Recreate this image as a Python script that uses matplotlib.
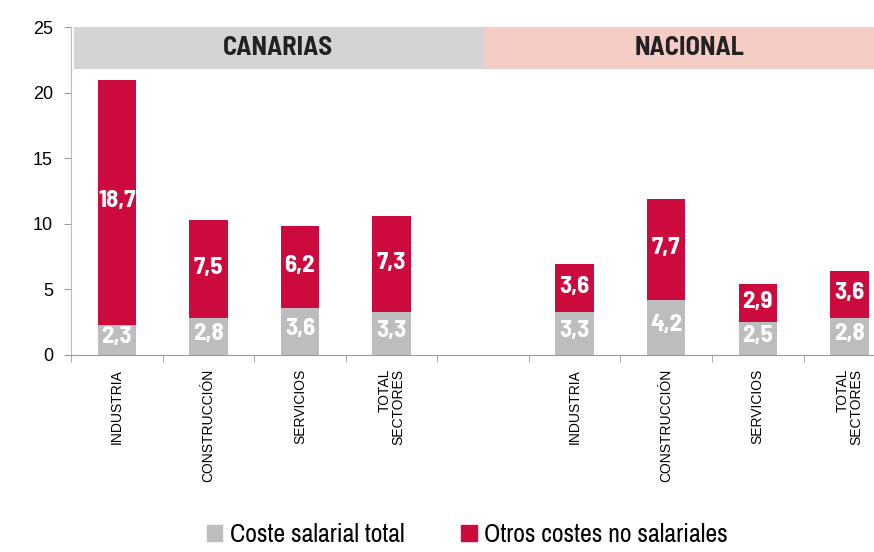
import matplotlib
matplotlib.use("Agg")
import matplotlib.pyplot as plt
from matplotlib.patches import Patch

plt.rcParams['font.family'] = ['Liberation Sans', 'DejaVu Sans']
narrow = ['Archivo Narrow', 'DejaVu Sans']
narrow_bold = ['Barlow Semi Condensed', 'DejaVu Sans']

# data
sectores = ["INDUSTRIA", "CONSTRUCCIÓN", "SERVICIOS", "TOTAL\nSECTORES"]
canarias_salarial = [2.3, 2.8, 3.6, 3.3]
canarias_otros = [18.7, 7.5, 6.2, 7.3]
nacional_salarial = [3.3, 4.2, 2.5, 2.8]
nacional_otros = [3.6, 7.7, 2.9, 3.6]
regiones = ["CANARIAS", "NACIONAL"]
yticks = [0, 5, 10, 15, 20, 25]

c_gris = "#BDBDC0"
c_rojo = "#CC0A3E"
c_banda1 = "#D4D4D6"
c_banda2 = "#F5CCC6"

fig = plt.figure(figsize=(8.74, 5.52), dpi=100)
ax = fig.add_axes([0.0812, 0.3569, 0.943, 0.594])

x_can = [0, 1, 2, 3]
x_nac = [5, 6, 7, 8]
salarial = canarias_salarial + nacional_salarial
otros = canarias_otros + nacional_otros
xs = x_can + x_nac

ax.bar(xs, salarial, width=0.42, color=c_gris, zorder=2)
ax.bar(xs, otros, width=0.42, bottom=salarial, color=c_rojo, zorder=2)

for x, s, o in zip(xs, salarial, otros):
    ax.text(x, s / 2 + 0.2, f"{s:.1f}".replace(".", ","), ha="center", va="center",
            color="white", fontsize=18, fontweight="bold", family=narrow_bold, zorder=3)
    ax.text(x, s + o / 2 + 0.1, f"{o:.1f}".replace(".", ","), ha="center", va="center",
            color="white", fontsize=18, fontweight="bold", family=narrow_bold, zorder=3)

# header bands
ax.fill_between([-0.47, 4], 21.8, 25, color=c_banda1, lw=0, zorder=1)
ax.fill_between([4, 8.5], 21.8, 25, color=c_banda2, lw=0, zorder=1)
ax.text(1.76, 23.4, regiones[0], ha="center", va="center", fontsize=19,
        fontweight="bold", color="#222222", family=narrow_bold)
ax.text(6.25, 23.4, regiones[1], ha="center", va="center", fontsize=19,
        fontweight="bold", color="#222222", family=narrow_bold)

ax.set_xlim(-0.5, 8.5)
ax.set_ylim(0, 25)
ax.set_yticks(yticks)
ax.set_yticklabels([str(v) for v in yticks], fontsize=13)

ax.set_xticks(xs)
ax.set_xticklabels(sectores + sectores, rotation=90, fontsize=10,
                   va="top", ha="center", linespacing=1.0, multialignment="right")
ax.set_xticks([i - 0.5 for i in range(10)], minor=True)
ax.tick_params(axis="x", which="major", length=0, pad=10)
ax.tick_params(axis="x", which="minor", length=5, color="#999999")
ax.tick_params(axis="y", length=5, color="#999999", pad=8)

for s in ["top", "right"]:
    ax.spines[s].set_visible(False)
ax.spines["left"].set_color("#BBBBBB")
ax.spines["bottom"].set_color("#999999")

handles = [Patch(color=c_gris, label="Coste salarial total"),
           Patch(color=c_rojo, label="Otros costes no salariales")]
fig.legend(handles=handles, loc="center", bbox_to_anchor=(0.535, 0.032),
           ncol=2, frameon=False, handlelength=0.6, handleheight=0.6,
           handletextpad=0.3, columnspacing=2.2,
           prop={'family': narrow, 'size': 18.5})

fig.savefig("out.png", dpi=100)
